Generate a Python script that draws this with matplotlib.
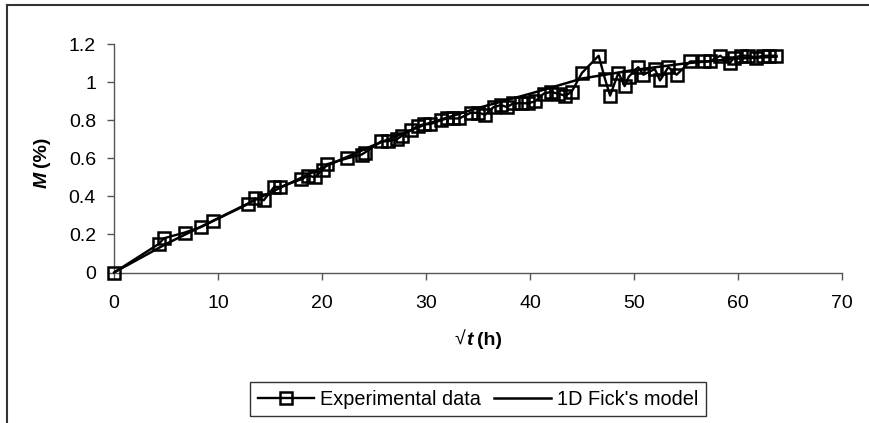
import matplotlib
matplotlib.use('Agg')
import matplotlib.pyplot as plt
from matplotlib.lines import Line2D

plt.rcParams['font.family'] = ['Liberation Sans', 'DejaVu Sans']
plt.rcParams['font.size'] = 14

# experimental data (sqrt t in h^0.5, M in %)
exp_x = [0, 4.3, 4.8, 6.8, 8.4, 9.5, 12.9, 13.6, 14.4, 15.4, 16.0, 18.0, 18.7, 19.3,
         20.1, 20.5, 22.4, 23.8, 24.1, 25.7, 26.3, 27.2, 27.7, 28.6, 29.2, 29.8, 30.4,
         31.4, 32.0, 32.6, 33.2, 34.3, 35.0, 35.7, 36.5, 37.2, 37.8, 38.4, 39.1, 39.8,
         40.5, 41.3, 42.0, 42.7, 43.4, 44.0, 45.0, 46.6, 47.2, 47.7, 48.5, 49.1, 49.5,
         50.4, 50.9, 52.0, 52.5, 53.3, 54.1, 55.4, 56.7, 57.3, 58.3, 59.2, 59.6, 60.3,
         61.0, 61.7, 62.4, 63.0, 63.7]
exp_y = [0, 0.15, 0.18, 0.21, 0.24, 0.27, 0.36, 0.39, 0.38, 0.45, 0.45, 0.49, 0.51, 0.50,
         0.54, 0.57, 0.60, 0.62, 0.63, 0.69, 0.69, 0.70, 0.72, 0.75, 0.77, 0.78, 0.78,
         0.80, 0.81, 0.81, 0.81, 0.84, 0.84, 0.83, 0.87, 0.88, 0.87, 0.89, 0.89, 0.89,
         0.90, 0.94, 0.95, 0.94, 0.93, 0.95, 1.05, 1.14, 1.02, 0.93, 1.05, 0.98, 1.03,
         1.08, 1.04, 1.07, 1.01, 1.08, 1.04, 1.11, 1.11, 1.11, 1.14, 1.10, 1.13, 1.14,
         1.14, 1.13, 1.14, 1.14, 1.14]

# 1D Fick's model curve
fick_x = [0, 5, 10, 15, 20, 25, 30, 35, 40, 45, 50, 55, 60, 63.7]
fick_y = [0, 0.15, 0.285, 0.42, 0.55, 0.67, 0.78, 0.865, 0.94, 1.02, 1.065, 1.10, 1.125, 1.135]

xticks = [0, 10, 20, 30, 40, 50, 60, 70]
yticks = [0, 0.2, 0.4, 0.6, 0.8, 1, 1.2]
ytick_labels = ['0', '0.2', '0.4', '0.6', '0.8', '1', '1.2']

W, H = 870, 423
fig = plt.figure(figsize=(W / 100, H / 100), dpi=100)
ax = fig.add_axes([114 / W, 1 - 272.5 / H, (842 - 114) / W, (272.5 - 44.3) / H])

ax.plot(exp_x, exp_y, color='black', lw=1.7, marker='s', ms=8.5, mfc='none',
        mec='black', mew=1.8, label='Experimental data', clip_on=False, zorder=3)
ax.plot(fick_x, fick_y, color='black', lw=1.8, label="1D Fick's model", zorder=4)

ax.set_xlim(0, 70)
ax.set_ylim(0, 1.2)
ax.set_xticks(xticks)
ax.set_yticks(yticks)
ax.set_yticklabels(ytick_labels)
for s in ['top', 'right']:
    ax.spines[s].set_visible(False)
for s in ['left', 'bottom']:
    ax.spines[s].set_color('#555555')
    ax.spines[s].set_linewidth(1.0)
ax.tick_params(axis='both', direction='out', length=5, width=1.0, color='#555555')
ax.tick_params(axis='x', pad=11)
ax.tick_params(axis='y', pad=8)

# axis labels with mixed styles
fig.text(455 / W, 1 - 340 / H, '\u221a', ha='left', va='center', fontsize=14)
fig.text(466 / W, 1 - 340 / H, 't', ha='left', va='center', fontsize=14,
         fontweight='bold', fontstyle='italic')
fig.text(477 / W, 1 - 340 / H, '(h)', ha='left', va='center', fontsize=14,
         fontweight='bold')
fig.text(42 / W, 1 - 188 / H, 'M', ha='center', va='bottom', rotation=90, fontsize=14,
         fontweight='bold', fontstyle='italic')
fig.text(42 / W, 1 - 167 / H, '(%)', ha='center', va='bottom', rotation=90, fontsize=14,
         fontweight='bold')

leg = fig.legend(loc='center', bbox_to_anchor=(478 / W, 1 - 399 / H), ncol=2,
                 frameon=True, fancybox=False, edgecolor='black', handlelength=2.85,
                 handletextpad=0.3, columnspacing=0.65, borderpad=0.4,
                 borderaxespad=0, fontsize=14.3)
leg.get_frame().set_linewidth(1.0)

# outer chart frame (only top and left visible)
fig.add_artist(Line2D([7 / W, 1], [1 - 5 / H, 1 - 5 / H], color='#333333', lw=1.5))
fig.add_artist(Line2D([7 / W, 7 / W], [0, 1 - 5 / H], color='#333333', lw=1.5))

fig.savefig('out.png', dpi=100)
